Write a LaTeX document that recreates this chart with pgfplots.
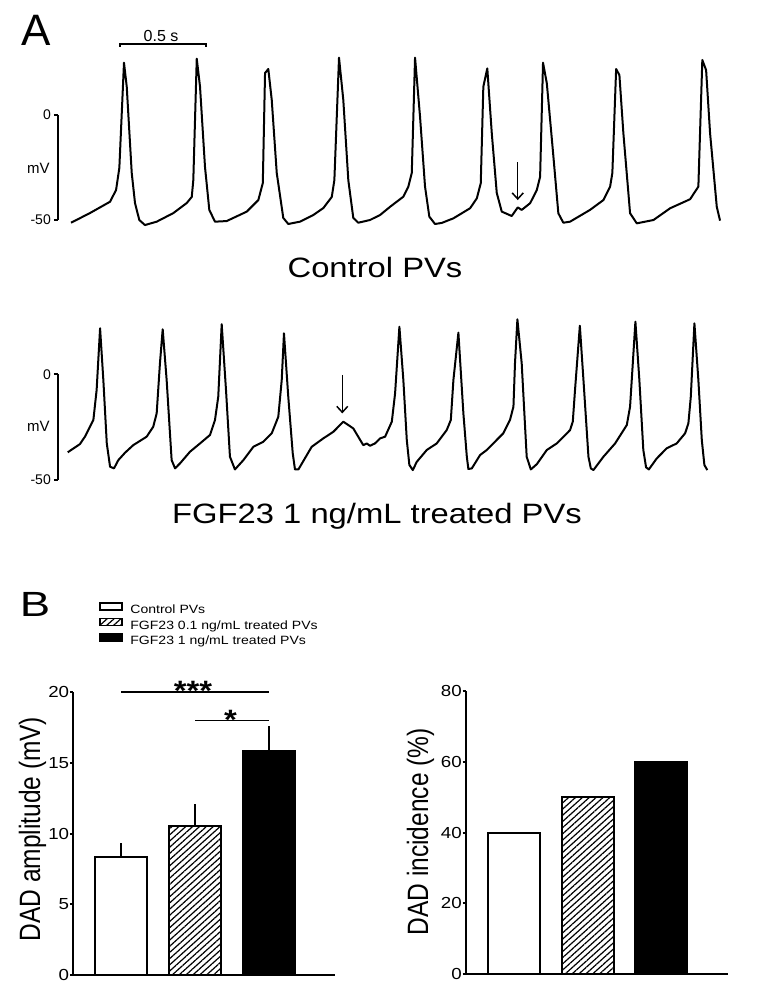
\documentclass[border=0pt]{standalone}
\usepackage{fontspec}
\setmainfont{Liberation Sans}
\newfontfamily\wide[FakeStretch=1.17]{Liberation Sans}
\usepackage{pgfplots}
\pgfplotsset{compat=1.18}
\usetikzlibrary{arrows.meta,patterns.meta}

\pgfplotsset{
  trace/.style={
    scale only axis, clip=false,
    axis x line=none, axis y line*=left, xtick=\empty,
    xmin=-75.6, xmax=3784.4, ymin=-50, ymax=0,
    width=664bp,
    ytick={-50,0}, yticklabels={-50,0},
    tick align=outside, major tick length=4bp,
    tick style={line width=2bp, black},
    axis line style={line width=2bp, black},
    yticklabel style={font=\fontsize{14bp}{16bp}\selectfont, inner sep=0pt, xshift=-3bp},
  },
  tr/.style={black, line width=2bp, line join=round, no marks},
  barax/.style={
    scale only axis, clip=false,
    axis lines*=left,
    xmin=-0.65, xmax=2.89, ymin=0,
    xtick=\empty,
    width=261.7bp,
    tick align=outside, major tick length=3.5bp,
    tick style={line width=2bp, black},
    axis line style={line width=2bp, black},
    /pgf/number format/assume math mode=true,
    yticklabel style={font=\wide\fontsize{16bp}{19bp}\selectfont, inner sep=0pt, xshift=-0.5bp},
    ylabel style={font=\fontsize{24.5bp}{28bp}\selectfont, anchor=base, inner sep=0pt},
  },
  bx/.style={ybar, bar width=52bp, bar shift=0pt, draw=black, line width=2bp,
    legend image code/.code={\draw[##1, line width=1.3bp] (0bp,0.5bp) rectangle (22bp,7.5bp);}},
  eb/.style={error bars/.cd, y dir=plus, y explicit,
    error bar style={line width=2bp, black, solid},
    error mark options={line width=2bp, black, mark size=5bp}},
}

\begin{document}
\begin{tikzpicture}
\useasboundingbox (0,0) rectangle (762bp,-1000bp);

% ---------------- Panel A labels ----------------
\node[anchor=base west, inner sep=0pt, font=\fontsize{44bp}{48bp}\selectfont] at (21bp,-45bp) {A};
\node[anchor=base, inner sep=0pt, font=\fontsize{16bp}{18bp}\selectfont] at (161bp,-41.7bp) {0.5 s};
\node[inner sep=0pt, font=\fontsize{15bp}{17bp}\selectfont] at (38.3bp,-168bp) {mV};
\node[inner sep=0pt, font=\fontsize{15bp}{17bp}\selectfont] at (38.3bp,-426.7bp) {mV};
\node[anchor=base, inner sep=0pt, font=\wide\fontsize{28bp}{32bp}\selectfont] at (375bp,-277.3bp) {Control PVs};
\node[anchor=base, inner sep=0pt, font=\wide\fontsize{28bp}{32bp}\selectfont] at (377bp,-523.3bp) {FGF23 1 ng/mL treated PVs};

% ---------------- Control trace ----------------
\begin{axis}[trace, at={(58bp,-220bp)}, anchor=south west, height=105bp]
\addplot[tr] coordinates {
(0,-51.3) (110,-46.7) (227,-41.3) (262,-35.7) (281,-25.2) (308,24.9) (324,13.5) (353,-27.6) (372,-41.9) (397,-50) (430,-52.4)
(498,-50.8) (595,-46.7) (673,-41.9) (702,-39) (711,-31) (731,26.8) (750,13.5) (779,-24.8) (804,-45.2) (837,-50.8)
(905,-50.5) (1022,-46) (1089,-40.5) (1115,-32.4) (1128,20) (1147,21.9) (1167,7.1) (1196,-27.6) (1234,-49) (1263,-51.9)
(1331,-50.8) (1409,-47.6) (1467,-44.3) (1516,-39) (1531,-31) (1558,27.3) (1583,7.1) (1612,-31) (1641,-49) (1670,-51.3)
(1738,-50) (1797,-47.6) (1855,-43.7) (1932,-38.9) (1961,-34.1) (1981,-27.6) (2000,27.3) (2029,-0.8) (2058,-34.1) (2083,-48.4) (2116,-51.9)
(2155,-51.4) (2223,-49.2) (2320,-44.4) (2359,-39.7) (2382,-32.5) (2397,13.5) (2420,22.2) (2446,-8.6) (2475,-37.1) (2504,-46)
(2562,-48.1) (2597,-44) (2620,-45.2) (2669,-42) (2708,-35.7) (2727,-29.4) (2744,24.9) (2766,15.1) (2801,-16.7) (2833,-46.8) (2862,-51.3)
(2901,-50.8) (3017,-45.2) (3095,-40.5) (3134,-34.1) (3147,-27.6) (3169,21.9) (3188,19) (3211,-8.6) (3250,-46.8) (3289,-51.6)
(3386,-50) (3483,-44.4) (3599,-40.1) (3647,-34.1) (3670,26.2) (3692,21.4) (3715,-8.6) (3754,-43.7) (3773,-50.3)
};
% time scale bar (0.5 s)
\addplot[black, line width=1.6bp, no marks] coordinates {(285,32.4) (285,33.8) (785,33.8) (785,32.4)};
% DAD arrow
\addplot[black, line width=1.5bp, no marks, -{Straight Barb[length=6bp, width=11bp]}] coordinates {(2597,-22.4) (2597,-40.5)};
\end{axis}

% ---------------- FGF23 trace ----------------
\begin{axis}[trace, at={(58bp,-480bp)}, anchor=south west, height=105.7bp]
\addplot[tr] coordinates {
(-19,-36.9) (52,-33) (81,-29.5) (130,-21.6) (149,-7.4) (169,21.8) (188,-2.7) (208,-32.7) (227,-43.7) (250,-44.5)
(275,-40.6) (314,-37.1) (362,-33.5) (440,-29.5) (478,-24.8) (498,-18.5) (517,5.2) (533,21.3) (556,-2.7) (585,-40.6) (605,-44.5)
(634,-42.1) (692,-36.6) (750,-32.7) (808,-28.7) (837,-21.6) (856,-10.6) (876,23.7) (901,-7.4) (924,-39) (953,-45)
(1002,-40.6) (1060,-34.3) (1118,-31.9) (1167,-27.9) (1205,-20.1) (1225,-2.7) (1238,19.4) (1263,-10.6) (1289,-37.4) (1302,-45) (1322,-45)
(1399,-34.3) (1467,-30.3) (1525,-27.2) (1583,-22.4) (1641,-25.6) (1699,-33.5) (1719,-32.7) (1738,-33.8) (1767,-32.7) (1797,-30.3)
(1826,-29.5) (1865,-22.4) (1884,-9) (1909,22.5) (1932,-2.7) (1952,-31.1) (1967,-42.9) (1987,-45.3) (2010,-41.4) (2068,-35.8)
(2126,-32.7) (2184,-26.4) (2208,-21.6) (2223,-2.7) (2252,19.7) (2281,-18.5) (2301,-39) (2310,-44.8) (2330,-44.5) (2378,-38.2)
(2417,-35.8) (2513,-27.9) (2552,-21.6) (2572,-15.3) (2581,5.2) (2595,26) (2620,5.2) (2649,-39) (2673,-45) (2708,-42.5)
(2766,-35.8) (2824,-32.7) (2901,-26.4) (2917,-22.4) (2930,-7.4) (2958,23) (2979,-2.7) (3008,-39) (3022,-44.5) (3037,-45.3)
(3095,-39) (3163,-32.7) (3231,-24) (3250,-15.3) (3281,24.9) (3304,-2.7) (3327,-35.8) (3343,-44) (3359,-45)
(3405,-39.8) (3463,-35) (3521,-32.7) (3570,-27.9) (3589,-23.2) (3603,-10.6) (3624,24.1) (3647,-2.7) (3667,-31.1) (3682,-42.9) (3699,-45.3)
};
% DAD arrow
\addplot[black, line width=1.5bp, no marks, -{Straight Barb[length=6bp, width=11bp]}] coordinates {(1577,-0.3) (1577,-18.5)};
\end{axis}

% ---------------- Panel B ----------------
\node[anchor=base west, inner sep=0pt, font=\fontsize{35bp}{40bp}\selectfont] at (19.7bp,-616.7bp) {\scalebox{1.3}[1]{B}};

\begin{axis}[barax, at={(73.3bp,-975bp)}, anchor=south west, height=282.7bp,
  ymax=20, ytick={0,5,10,15,20},
  ylabel={\scalebox{1}[1.2]{DAD amplitude (mV)}},
  ylabel style={at={(axis description cs:-0.127,0.516)}},
  legend style={at={(0.0994,1.3178)}, anchor=north west, draw=none, fill=none,
    inner sep=0pt, outer sep=0pt, row sep=0pt,
    font=\wide\fontsize{12bp}{14bp}\selectfont,
    nodes={inner sep=1.25bp, text height=9bp, text depth=3bp},
    /tikz/every odd column/.append style={column sep=6.5bp}},
  legend cell align=left,
]
\addplot[bx, fill=white, eb] coordinates {(0,8.37) +- (0,0.59)};
\addlegendentry{Control PVs}
\addplot[bx, pattern={Lines[angle=42, distance=4.6bp, line width=1.2bp]}, eb] coordinates {(1,10.56) +- (0,1.18)};
\addlegendentry{FGF23 0.1 ng/mL treated PVs}
\addplot[bx, fill=black, eb] coordinates {(2,15.87) +- (0,1.39)};
\addlegendentry{FGF23 1 ng/mL treated PVs}
\addplot[forget plot, black, line width=2bp, no marks] coordinates {(0,20) (2,20)};
\addplot[forget plot, black, line width=1.5bp, no marks] coordinates {(1,18) (2,18)};
\node[anchor=base, inner sep=0pt, font=\wide\bfseries\fontsize{28bp}{30bp}\selectfont] at (axis cs:0.97,19.45) {***};
\node[anchor=base, inner sep=0pt, font=\wide\bfseries\fontsize{28bp}{30bp}\selectfont] at (axis cs:1.475,17.4) {*};
\end{axis}

\begin{axis}[barax, at={(466bp,-974.3bp)}, anchor=south west, height=283.3bp,
  xmax=2.9, ymax=80, ytick={0,20,40,60,80},
  ylabel={\scalebox{1}[1.2]{DAD incidence (\%)}},
  ylabel style={at={(axis description cs:-0.145,0.503)}},
]
\addplot[bx, fill=white] coordinates {(0,40)};
\addplot[bx, pattern={Lines[angle=42, distance=4.6bp, line width=1.2bp]}] coordinates {(1,50)};
\addplot[bx, fill=black] coordinates {(2,60)};
\end{axis}
\end{tikzpicture}
\end{document}
